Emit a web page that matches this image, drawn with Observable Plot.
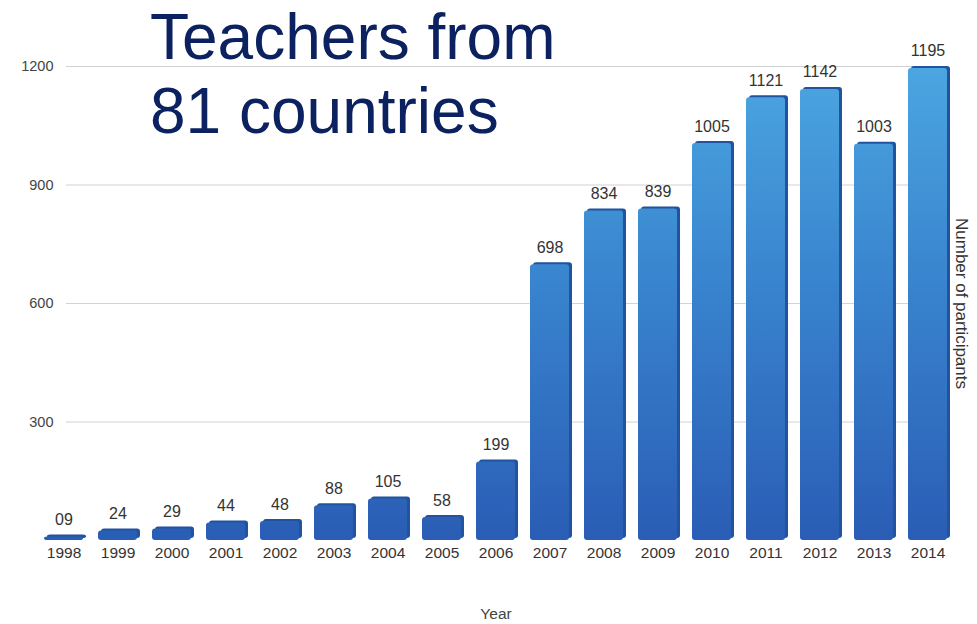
<!DOCTYPE html>
<html>
<head>
<meta charset="utf-8">
<script src="https://cdn.jsdelivr.net/npm/d3@7"></script>
<script src="https://cdn.jsdelivr.net/npm/@observablehq/plot@0.6"></script>
<style>
  body { margin: 0; background: #fff; }
  #wrap { position: relative; width: 977px; height: 624px; }
  #title { position: absolute; left: 150px; top: 0px; font-family: "Liberation Sans", Arial, sans-serif;
           font-size: 64px; line-height: 74px; color: #0b2160; pointer-events: none; }
</style>
</head>
<body>
<div id="wrap">
  <div id="chart"></div>
  <div id="title">Teachers from<br>81 countries</div>
</div>
<script>
const years = ["1998","1999","2000","2001","2002","2003","2004","2005","2006","2007","2008","2009","2010","2011","2012","2013","2014"];
const participants = [9,24,29,44,48,88,105,58,199,698,834,839,1005,1121,1142,1003,1195];
const valueLabels = ["09","24","29","44","48","88","105","58","199","698","834","839","1005","1121","1142","1003","1195"];
const yTicks = [300,600,900,1200];

const data = years.map((y,i) => ({year: y, value: participants[i], label: valueLabels[i]}));

const chart = Plot.plot({
  width: 977,
  height: 624,
  marginLeft: 40,
  marginRight: 26,
  marginTop: 66,
  marginBottom: 84,
  style: {fontFamily: "'Liberation Sans', Arial, sans-serif", fontSize: "15px", color: "#333", background: "#fff"},
  x: {domain: years, paddingInner: 0.28, paddingOuter: 0, label: null},
  y: {domain: [0, 1200], label: null},
  marks: [
    Plot.ruleY(yTicks, {stroke: "#d2d2d2", strokeWidth: 1.2, insetLeft: 26, insetRight: 8}),
    Plot.axisY({ticks: yTicks, tickFormat: "d", tickSize: 0, tickPadding: 0, dx: 13, fontSize: 14.5, fill: "#444", label: null}),
    Plot.axisX({tickSize: 0, tickPadding: 6, fontSize: 15.5, fill: "#333", label: "Year", labelAnchor: "center", labelOffset: 78, labelArrow: "none"}),
    Plot.barY(data, {x: "year", y: "value", fill: "#21539f", dx: 3, dy: -2, rx: 3}),
    Plot.barY(data, {x: "year", y: "value", fill: "url(#barGrad)", rx: 3}),
    Plot.text(data, {x: "year", y: "value", text: "label", dy: -12, lineAnchor: "bottom", fontSize: 16, fill: "#333"}),
    Plot.text(["Number of participants"], {frameAnchor: "right", textAnchor: "middle", dx: 10, rotate: 90, fontSize: 17, fill: "#333"})
  ]
});

const svg = d3.select(chart);
svg.selectAll("[aria-label='y-axis label'], [aria-label='x-axis label']").attr("fill", "#444");
const defs = svg.insert("defs", ":first-child");
const g = defs.append("linearGradient").attr("id", "barGrad")
  .attr("gradientUnits", "userSpaceOnUse").attr("x1", 0).attr("x2", 0).attr("y1", 60).attr("y2", 540);
g.append("stop").attr("offset", "0%").attr("stop-color", "#4ca7e1");
g.append("stop").attr("offset", "45%").attr("stop-color", "#3985cf");
g.append("stop").attr("offset", "100%").attr("stop-color", "#2a5db5");

document.getElementById("chart").appendChild(chart);
</script>
</body>
</html>
